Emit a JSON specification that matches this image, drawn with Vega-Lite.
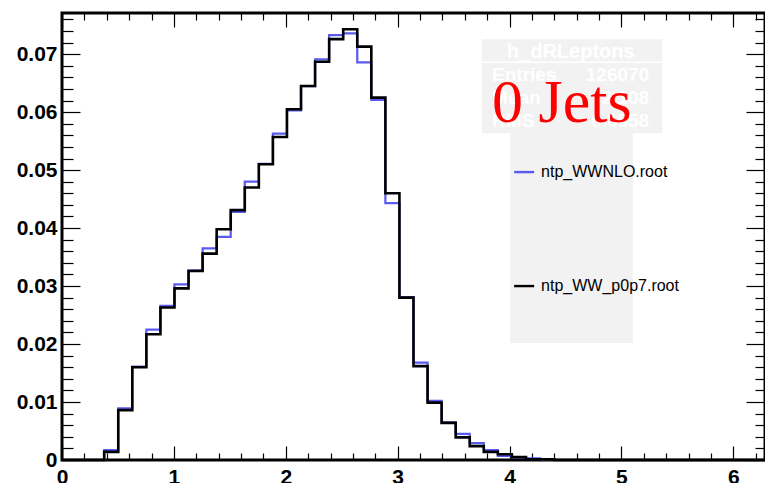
{
  "$schema": "https://vega.github.io/schema/vega-lite/v6.json",
  "width": 703,
  "height": 447,
  "autosize": {"type": "none"},
  "padding": {"left": 62, "top": 13, "right": 0, "bottom": 23},
  "background": "white",
  "config": {
    "view": {"stroke": "#000", "strokeWidth": 3},
    "font": "Liberation Sans",
    "axis": {"grid": false, "domain": false, "title": null, "tickColor": "#000", "tickWidth": 1.2, "labelFont": "Liberation Sans", "labelFontSize": 21, "labelFontWeight": "bold", "labelColor": "#000"}
  },
  "data": {"values": [
    {"x": 0, "nlo": 0, "p0p7": 0},
    {"x": 0.1257, "nlo": 0, "p0p7": 0},
    {"x": 0.2513, "nlo": 0, "p0p7": 0},
    {"x": 0.377, "nlo": 0.0017, "p0p7": 0.0014},
    {"x": 0.5027, "nlo": 0.0089, "p0p7": 0.0086},
    {"x": 0.6283, "nlo": 0.0161, "p0p7": 0.016},
    {"x": 0.754, "nlo": 0.0225, "p0p7": 0.0217},
    {"x": 0.8796, "nlo": 0.0266, "p0p7": 0.0263},
    {"x": 1.0053, "nlo": 0.0303, "p0p7": 0.0296},
    {"x": 1.131, "nlo": 0.0327, "p0p7": 0.0326},
    {"x": 1.2566, "nlo": 0.0365, "p0p7": 0.0356},
    {"x": 1.3823, "nlo": 0.0385, "p0p7": 0.0398},
    {"x": 1.508, "nlo": 0.0428, "p0p7": 0.0431},
    {"x": 1.6336, "nlo": 0.048, "p0p7": 0.047},
    {"x": 1.7593, "nlo": 0.0511, "p0p7": 0.051},
    {"x": 1.885, "nlo": 0.0563, "p0p7": 0.0557},
    {"x": 2.0106, "nlo": 0.0603, "p0p7": 0.0605},
    {"x": 2.1363, "nlo": 0.0645, "p0p7": 0.0645},
    {"x": 2.2619, "nlo": 0.0691, "p0p7": 0.0687},
    {"x": 2.3876, "nlo": 0.0733, "p0p7": 0.0726},
    {"x": 2.5133, "nlo": 0.0736, "p0p7": 0.0743},
    {"x": 2.6389, "nlo": 0.0686, "p0p7": 0.0713},
    {"x": 2.7646, "nlo": 0.0621, "p0p7": 0.0625},
    {"x": 2.8903, "nlo": 0.0443, "p0p7": 0.046},
    {"x": 3.0159, "nlo": 0.0281, "p0p7": 0.028},
    {"x": 3.1416, "nlo": 0.0168, "p0p7": 0.0162},
    {"x": 3.2673, "nlo": 0.0102, "p0p7": 0.0099},
    {"x": 3.3929, "nlo": 0.0065, "p0p7": 0.0064},
    {"x": 3.5186, "nlo": 0.0045, "p0p7": 0.0039},
    {"x": 3.6442, "nlo": 0.0029, "p0p7": 0.0024},
    {"x": 3.7699, "nlo": 0.0017, "p0p7": 0.0014},
    {"x": 3.8956, "nlo": 0.0007, "p0p7": 0.001},
    {"x": 4.0212, "nlo": 0.0004, "p0p7": 0.0005},
    {"x": 4.1469, "nlo": 0.0003, "p0p7": 0.0001},
    {"x": 4.2726, "nlo": 0.0001, "p0p7": 0.0001},
    {"x": 4.3982, "nlo": 0, "p0p7": 0},
    {"x": 4.5239, "nlo": 0, "p0p7": 0},
    {"x": 4.6496, "nlo": 0, "p0p7": 0},
    {"x": 4.7752, "nlo": 0, "p0p7": 0},
    {"x": 4.9009, "nlo": 0, "p0p7": 0},
    {"x": 5.0265, "nlo": 0, "p0p7": 0},
    {"x": 5.1522, "nlo": 0, "p0p7": 0},
    {"x": 5.2779, "nlo": 0, "p0p7": 0},
    {"x": 5.4035, "nlo": 0, "p0p7": 0},
    {"x": 5.5292, "nlo": 0, "p0p7": 0},
    {"x": 5.6549, "nlo": 0, "p0p7": 0},
    {"x": 5.7805, "nlo": 0, "p0p7": 0},
    {"x": 5.9062, "nlo": 0, "p0p7": 0},
    {"x": 6.0319, "nlo": 0, "p0p7": 0},
    {"x": 6.1575, "nlo": 0, "p0p7": 0},
    {"x": 6.2832, "nlo": 0, "p0p7": 0}
  ]},
  "layer": [
    {
      "data": {"values": [{}]},
      "mark": {"type": "rect", "fill": "#f2f2f2"},
      "encoding": {
        "x": {"datum": 3.754, "type": "quantitative", "axis": null},
        "x2": {"datum": 5.365},
        "y": {"datum": 0.07259, "type": "quantitative", "axis": null},
        "y2": {"datum": 0.05638}
      }
    },
    {
      "data": {"values": [{}]},
      "mark": {"type": "rect", "fill": "#f2f2f2"},
      "encoding": {
        "x": {"datum": 4.005, "type": "quantitative", "axis": null},
        "x2": {"datum": 5.102},
        "y": {"datum": 0.05638, "type": "quantitative", "axis": null},
        "y2": {"datum": 0.02017}
      }
    },
    {
      "data": {"values": [{}]},
      "mark": {"type": "rule", "stroke": "white", "strokeWidth": 1.5},
      "encoding": {
        "x": {"datum": 3.754, "type": "quantitative", "axis": null},
        "x2": {"datum": 5.365},
        "y": {"datum": 0.06862, "type": "quantitative", "axis": null}
      }
    },
    {
      "data": {"values": [{}]},
      "mark": {"type": "text", "text": "h_dRLeptons", "color": "white", "fontSize": 20, "fontWeight": "bold", "align": "center", "baseline": "middle"},
      "encoding": {
        "x": {"datum": 4.547, "type": "quantitative", "axis": null},
        "y": {"datum": 0.07034, "type": "quantitative", "axis": null}
      }
    },
    {
      "data": {"values": [
        {"label": "Entries", "value": "126070", "yy": 0.06638},
        {"label": "Mean", "value": "2.108", "yy": 0.06241},
        {"label": "RMS", "value": "0.6558", "yy": 0.05845}
      ]},
      "layer": [
        {
          "mark": {"type": "text", "color": "white", "fontSize": 19, "fontWeight": "bold", "align": "left", "baseline": "middle"},
          "encoding": {
            "x": {"datum": 3.844, "type": "quantitative", "axis": null},
            "y": {"field": "yy", "type": "quantitative", "axis": null},
            "text": {"field": "label"}
          }
        },
        {
          "mark": {"type": "text", "color": "white", "fontSize": 19, "fontWeight": "bold", "align": "right", "baseline": "middle"},
          "encoding": {
            "x": {"datum": 5.248, "type": "quantitative", "axis": null},
            "y": {"field": "yy", "type": "quantitative", "axis": null},
            "text": {"field": "value"}
          }
        }
      ]
    },
    {
      "mark": {"type": "line", "interpolate": "step-after", "color": "#5a5aef", "strokeWidth": 2.2},
      "encoding": {
        "x": {"field": "x", "type": "quantitative", "scale": {"domain": [0, 6.2832], "nice": false, "zero": false},
              "axis": {"orient": "bottom", "values": [0, 1, 2, 3, 4, 5, 6], "tickSize": -14, "labelPadding": 20, "labelFlush": false, "format": "d"}},
        "y": {"field": "nlo", "type": "quantitative", "scale": {"domain": [0, 0.0771], "nice": false},
              "axis": {"orient": "left", "values": [0, 0.01, 0.02, 0.03, 0.04, 0.05, 0.06, 0.07], "tickSize": -18, "labelPadding": 23, "labelFlush": false, "labelExpr": "datum.value == 0 ? '0' : format(datum.value, '.2f')"}}
      }
    },
    {
      "mark": {"type": "line", "interpolate": "step-after", "color": "#000000", "strokeWidth": 2.6},
      "encoding": {
        "x": {"field": "x", "type": "quantitative",
              "axis": {"orient": "bottom", "values": [0.2, 0.4, 0.6, 0.8, 1.2, 1.4, 1.6, 1.8, 2.2, 2.4, 2.6, 2.8, 3.2, 3.4, 3.6, 3.8, 4.2, 4.4, 4.6, 4.8, 5.2, 5.4, 5.6, 5.8, 6.2], "tickSize": -7, "labels": false}},
        "y": {"field": "p0p7", "type": "quantitative",
              "axis": {"orient": "left", "values": [0.002, 0.004, 0.006, 0.008, 0.012, 0.014, 0.016, 0.018, 0.022, 0.024, 0.026, 0.028, 0.032, 0.034, 0.036, 0.038, 0.042, 0.044, 0.046, 0.048, 0.052, 0.054, 0.056, 0.058, 0.062, 0.064, 0.066, 0.068, 0.072, 0.074, 0.076], "tickSize": -11, "labels": false}}
      }
    },
    {
      "mark": {"type": "line", "opacity": 0},
      "encoding": {
        "x": {"field": "x", "type": "quantitative",
              "axis": {"orient": "top", "values": [0, 1, 2, 3, 4, 5, 6], "tickSize": -14, "labels": false}},
        "y": {"field": "p0p7", "type": "quantitative",
              "axis": {"orient": "right", "values": [0, 0.01, 0.02, 0.03, 0.04, 0.05, 0.06, 0.07], "tickSize": -19, "labels": false}}
      }
    },
    {
      "mark": {"type": "line", "opacity": 0},
      "encoding": {
        "x": {"field": "x", "type": "quantitative",
              "axis": {"orient": "top", "values": [0.2, 0.4, 0.6, 0.8, 1.2, 1.4, 1.6, 1.8, 2.2, 2.4, 2.6, 2.8, 3.2, 3.4, 3.6, 3.8, 4.2, 4.4, 4.6, 4.8, 5.2, 5.4, 5.6, 5.8, 6.2], "tickSize": -7, "labels": false}},
        "y": {"field": "p0p7", "type": "quantitative",
              "axis": {"orient": "right", "values": [0.002, 0.004, 0.006, 0.008, 0.012, 0.014, 0.016, 0.018, 0.022, 0.024, 0.026, 0.028, 0.032, 0.034, 0.036, 0.038, 0.042, 0.044, 0.046, 0.048, 0.052, 0.054, 0.056, 0.058, 0.062, 0.064, 0.066, 0.068, 0.072, 0.074, 0.076], "tickSize": -10, "labels": false}}
      }
    },
    {
      "data": {"values": [{}]},
      "mark": {"type": "text", "text": "0 Jets", "color": "#ff0000", "font": "Liberation Serif", "fontSize": 62, "align": "left", "baseline": "alphabetic"},
      "encoding": {
        "x": {"datum": 3.844, "type": "quantitative", "axis": null},
        "y": {"datum": 0.05828, "type": "quantitative", "axis": null}
      }
    },
    {
      "data": {"values": [
        {"name": "ntp_WWNLO.root", "yy": 0.04966, "col": "nlo"},
        {"name": "ntp_WW_p0p7.root", "yy": 0.03, "col": "p0p7"}
      ]},
      "layer": [
        {
          "mark": {"type": "rule", "strokeWidth": 2.4},
          "encoding": {
            "x": {"datum": 4.041, "type": "quantitative", "axis": null},
            "x2": {"datum": 4.22},
            "y": {"field": "yy", "type": "quantitative", "axis": null},
            "color": {"field": "col", "type": "nominal", "scale": {"domain": ["nlo", "p0p7"], "range": ["#5a5aef", "#000000"]}, "legend": null}
          }
        },
        {
          "mark": {"type": "text", "color": "#000", "fontSize": 16, "align": "left", "baseline": "middle"},
          "encoding": {
            "x": {"datum": 4.282, "type": "quantitative", "axis": null},
            "y": {"field": "yy", "type": "quantitative", "axis": null},
            "text": {"field": "name"}
          }
        }
      ]
    }
  ],
  "resolve": {"axis": {"x": "independent", "y": "independent"}}
}
